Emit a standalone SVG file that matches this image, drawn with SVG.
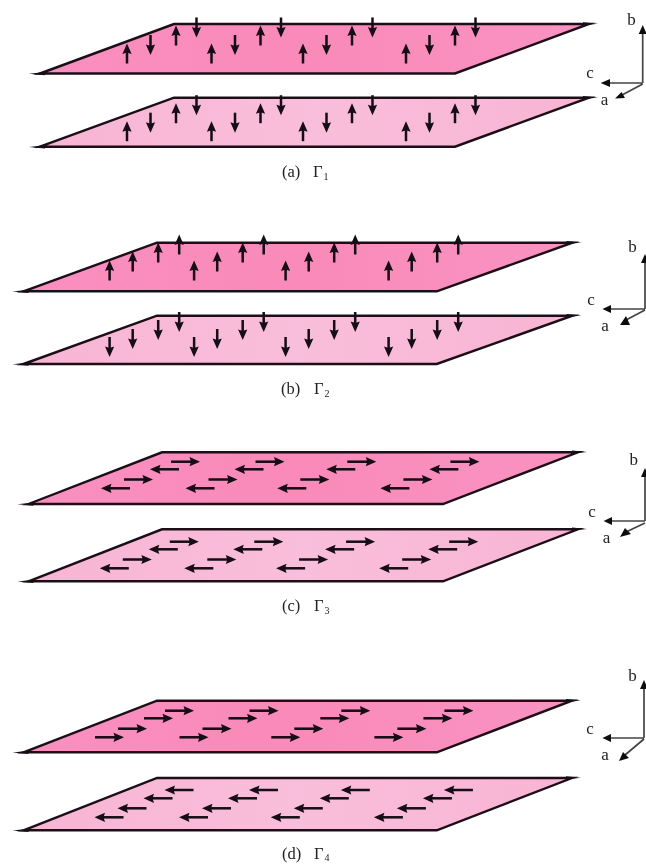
<svg xmlns="http://www.w3.org/2000/svg" width="646" height="864" viewBox="0 0 646 864">
<style>
text{font-family:"Liberation Serif","Times New Roman",serif;fill:#222}
.cap{font-size:16.5px}
.sub{font-size:10px}
.ax{font-size:17px;text-anchor:middle}
.dark{fill:url(#gd);stroke:#1a1016;stroke-width:2.4;stroke-miterlimit:12}
.light{fill:url(#gl);stroke:#1a1016;stroke-width:2.4;stroke-miterlimit:12}
.sh{stroke:#120a14;stroke-width:2.5;fill:none}
.hd,.tip{fill:#120a14}
.axl{stroke:#444;stroke-width:1.7;fill:none}
.axh{fill:#111}
</style>
<defs>
<filter id="soft" x="-2%" y="-2%" width="104%" height="104%"><feGaussianBlur stdDeviation="0.4"/></filter>
<linearGradient id="gd" x1="0" y1="0" x2="1" y2="0"><stop offset="0" stop-color="#F98FC0"/><stop offset="0.5" stop-color="#F98AB9"/><stop offset="1" stop-color="#F993C2"/></linearGradient>
<linearGradient id="gl" x1="0" y1="0" x2="1" y2="0"><stop offset="0" stop-color="#F8B4D4"/><stop offset="0.5" stop-color="#F9BEDB"/><stop offset="1" stop-color="#F8B4D4"/></linearGradient>
<path id="tl" class="tip" d="M-11 0L5 -1.8V1.4Z"/>
<path id="tr" class="tip" d="M9 0L-6 -1.4V1.8Z"/>
<g id="u"><path class="sh" d="M0 6V19.5"/><path class="hd" d="M0 -0.5L4.6 10L0 8.5L-4.6 10Z"/></g>
<g id="d"><path class="sh" d="M0 0V13.5"/><path class="hd" d="M0 20L4.6 9.5L0 11L-4.6 9.5Z"/></g>
<g id="l"><path class="sh" d="M6 0H28.5"/><path class="hd" d="M-0.5 0L10 -4.6L8.5 0L10 4.6Z"/></g>
<g id="r"><path class="sh" d="M0 0H22.5"/><path class="hd" d="M29 0L18.5 -4.6L20 0L18.5 4.6Z"/></g>
<g id="qa"><use href="#u" x="127" y="44"/><use href="#d" x="150.5" y="35"/><use href="#u" x="176" y="26"/><use href="#d" x="196.5" y="17.5"/></g>
<g id="qbu"><use href="#u" x="109.6" y="41"/><use href="#u" x="132.7" y="32"/><use href="#u" x="158.2" y="23"/><use href="#u" x="179.2" y="15"/></g>
<g id="qbd"><use href="#d" x="109.6" y="117"/><use href="#d" x="132.7" y="109"/><use href="#d" x="158.2" y="100"/><use href="#d" x="179.2" y="92"/></g>
<g id="qc"><use href="#l" x="101.5" y="48.3"/><use href="#r" x="124" y="39.5"/><use href="#l" x="150.5" y="29.3"/><use href="#r" x="171" y="21.7"/></g>
<g id="qdr"><use href="#r" x="95" y="67.3"/><use href="#r" x="118" y="58.7"/><use href="#r" x="144" y="48.3"/><use href="#r" x="165" y="40.7"/></g>
<g id="qdl"><use href="#l" x="95" y="147.3"/><use href="#l" x="118" y="138.3"/><use href="#l" x="144" y="128.3"/><use href="#l" x="165" y="120"/></g>
</defs>
<rect width="646" height="864" fill="#fff"/>
<g filter="url(#soft)">
<g id="panel-a">
<g id="a-upper"><polygon class="dark" points="40,73.5 174,24 589,24 455,73.5"/><use href="#tl" x="40" y="73.8"/><use href="#tr" x="589" y="23.7"/>
<use href="#qa"/><use href="#qa" x="84.5"/><use href="#qa" x="176"/><use href="#qa" x="279"/></g>
<g id="a-lower"><polygon class="light" points="40,146.7 174,97.7 589,97.7 455,146.7"/><use href="#tl" x="40" y="147"/><use href="#tr" x="589" y="97.4"/>
<g transform="translate(0,77.7)"><use href="#qa"/><use href="#qa" x="84.5"/><use href="#qa" x="176"/><use href="#qa" x="279"/></g></g>
<text id="a-cap" class="cap" x="282" y="177">(a)<tspan x="313">Γ</tspan><tspan class="sub" dx="1" dy="3">1</tspan></text>
</g>
<g id="panel-b">
<g id="b-upper"><polygon class="dark" points="23.5,291.3 157,242.7 572.5,242.7 436.8,291.3"/><use href="#tl" x="23.5" y="291.6"/><use href="#tr" x="572.5" y="242.4"/>
<g transform="translate(0,220)"><use href="#qbu"/><use href="#qbu" x="84.5"/><use href="#qbu" x="176"/><use href="#qbu" x="279"/></g></g>
<g id="b-lower"><polygon class="light" points="23.5,364 157,315.7 572.5,315.7 436.8,364"/><use href="#tl" x="23.5" y="364.3"/><use href="#tr" x="572.5" y="315.4"/>
<g transform="translate(0,220)"><use href="#qbd"/><use href="#qbd" x="84.5"/><use href="#qbd" x="176"/><use href="#qbd" x="279"/></g></g>
<text id="b-cap" class="cap" x="281" y="394">(b)<tspan x="314">Γ</tspan><tspan class="sub" dx="1" dy="3">2</tspan></text>
</g>
<g id="panel-c">
<g id="c-upper"><polygon class="dark" points="28.5,504 162,452.3 578,452.3 443,504"/><use href="#tl" x="28.5" y="504.3"/><use href="#tr" x="578" y="452"/>
<g transform="translate(0,440)"><use href="#qc"/><use href="#qc" x="84.5"/><use href="#qc" x="176.3"/><use href="#qc" x="279.4"/></g></g>
<g id="c-lower"><polygon class="light" points="28.5,581.3 162,529.3 578,529.3 443,581.3"/><use href="#tl" x="28.5" y="581.6"/><use href="#tr" x="578" y="529"/>
<g transform="translate(-1.2,520)"><use href="#qc"/><use href="#qc" x="84.5"/><use href="#qc" x="176.3"/><use href="#qc" x="279.4"/></g></g>
<text id="c-cap" class="cap" x="282" y="611">(c)<tspan x="314">Γ</tspan><tspan class="sub" dx="1" dy="3">3</tspan></text>
</g>
<g id="panel-d">
<g id="d-upper"><polygon class="dark" points="23.5,752.3 157,700.7 572,700.7 436.8,752.3"/><use href="#tl" x="23.5" y="752.6"/><use href="#tr" x="572" y="700.4"/>
<g transform="translate(0,670)"><use href="#qdr"/><use href="#qdr" x="84.5"/><use href="#qdr" x="176.3"/><use href="#qdr" x="279.4"/></g></g>
<g id="d-lower"><polygon class="light" points="23.5,830.3 157,778 572,778 436.8,830.3"/><use href="#tl" x="23.5" y="830.6"/><use href="#tr" x="572" y="777.7"/>
<g transform="translate(0,670)"><use href="#qdl"/><use href="#qdl" x="84.5"/><use href="#qdl" x="176.3"/><use href="#qdl" x="279.4"/></g></g>
<text id="d-cap" class="cap" x="282" y="859">(d)<tspan x="314">Γ</tspan><tspan class="sub" dx="1" dy="2">4</tspan></text>
</g>
<g id="axes-a">
<path class="axl" d="M642.7 83V32M642.7 83H608M642.7 84L622 95"/>
<path class="axh" d="M642.7 25L646.7 34H638.7ZM600.7 83L610 79V87ZM615 98.5L621.5 92L625 98Z"/>
<text class="ax" x="631.5" y="25">b</text><text class="ax" x="590" y="78">c</text><text class="ax" x="604.5" y="105">a</text>
</g>
<g id="axes-b">
<path class="axl" d="M645 309V260M645 309H608M645 310L626 320"/>
<path class="axh" d="M645 254L649 263H641ZM602.4 309L611 305V313ZM620 325L626 316L630 325Z"/>
<text class="ax" x="632.5" y="252">b</text><text class="ax" x="591" y="305">c</text><text class="ax" x="605" y="331">a</text>
</g>
<g id="axes-c">
<path class="axl" d="M645 521V474M645 521H609M645 523L626 532"/>
<path class="axh" d="M645 468L649 477H641ZM603.6 521L612 517V525ZM620 537L625 528L631 534Z"/>
<text class="ax" x="633.7" y="465">b</text><text class="ax" x="592" y="517">c</text><text class="ax" x="606.5" y="543">a</text>
</g>
<g id="axes-d">
<path class="axl" d="M644 738V686M644 738H608M644 739L625 755"/>
<path class="axh" d="M644 680L648 689H640ZM602.4 738L611 734V742ZM619 761L623 752L629 758Z"/>
<text class="ax" x="632.5" y="681">b</text><text class="ax" x="590" y="734">c</text><text class="ax" x="605" y="760">a</text>
</g>
</g>
</svg>
